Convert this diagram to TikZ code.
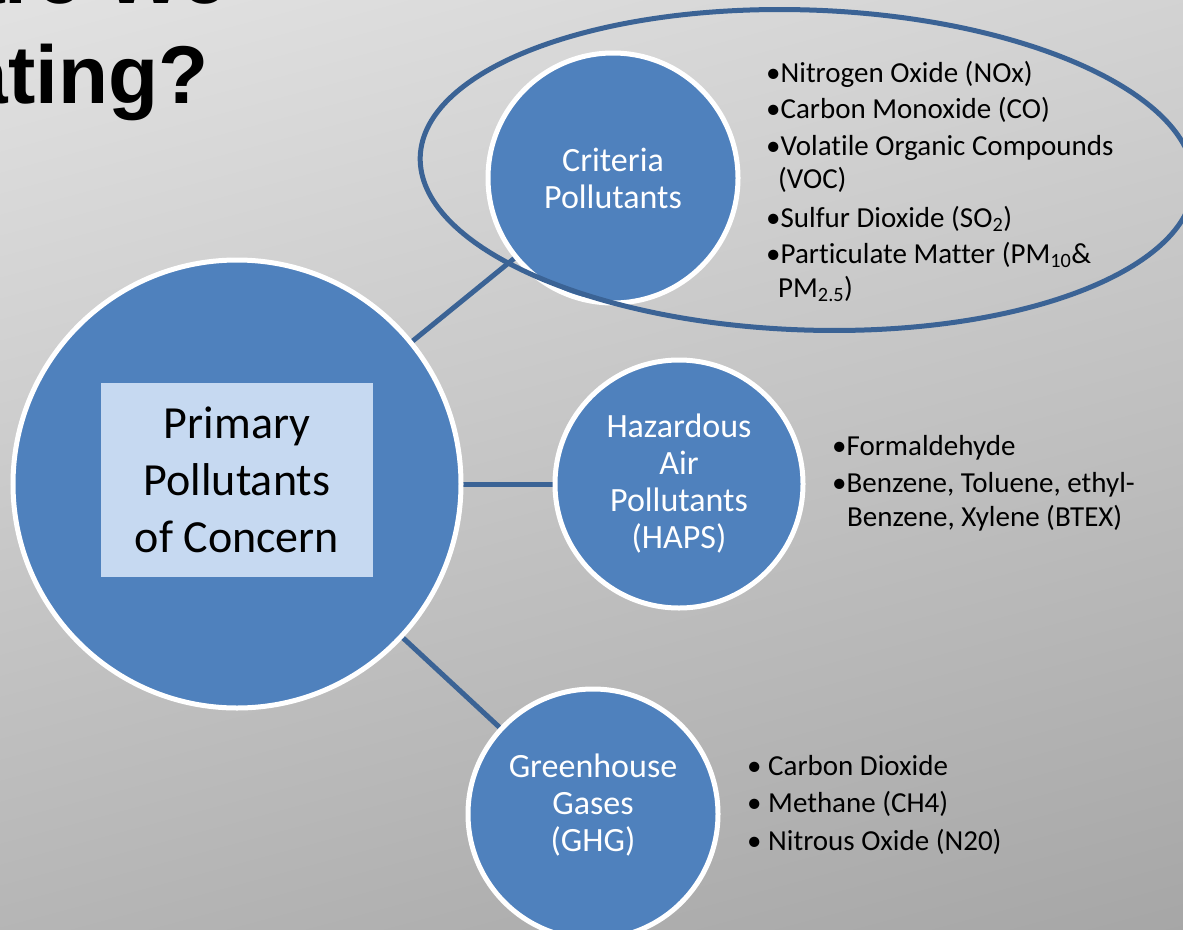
\documentclass[tikz,border=0pt]{standalone}
\usepackage{fontspec}
\setmainfont{Carlito}[Ligatures=NoCommon]
\newfontfamily\titlefont{Liberation Sans}
\definecolor{bgtop}{HTML}{E6E6E6}
\definecolor{bgbot}{HTML}{A2A2A2}
\definecolor{circfill}{HTML}{4F81BD}
\definecolor{linecol}{HTML}{3B6395}
\definecolor{boxfill}{HTML}{C6D9F1}
\tikzset{
  bubble/.style={circle, fill=circfill, draw=white, line width=5pt, inner sep=0pt,
    text=white, align=center, font=\fontsize{34}{37}\selectfont},
  conn/.style={draw=linecol, line width=5pt},
  ring/.style={draw=linecol, line width=5pt},
  item/.style={anchor=base west, inner sep=0pt, text=black, font=\fontsize{29}{36}\selectfont},
  titletext/.style={anchor=base east, inner sep=0pt, text=black, font=\titlefont\bfseries\fontsize{82}{100}\selectfont}
}
\begin{document}
\begin{tikzpicture}[x=1pt,y=-1pt]
\useasboundingbox (0,0) rectangle (1183,929);
\shade[top color=bgtop, bottom color=bgbot, shading angle=15] (-200,-200) rectangle (1383,1129);

% title fragments
\node[titletext] (t1) at (227,3) {are We};
\node[titletext] (t2) at (209,103) {ating?};

% nodes
\coordinate (bigc) at (237,484);
\coordinate (critc) at (613,178);
\coordinate (hapsc) at (679,484);
\coordinate (ghgc) at (593,814);

\draw[conn] (bigc) -- (critc);
\draw[conn] (bigc) -- (hapsc);
\draw[conn] (bigc) -- (ghgc);

\node[bubble, minimum size=448pt] (big) at (bigc) {};
\node[fill=boxfill, minimum width=272pt, minimum height=194pt, inner sep=0pt,
      align=center, font=\fontsize{46}{57}\selectfont] (box) at (237,480)
      {Primary\\Pollutants\\of Concern};
\node[bubble, minimum size=250pt] (crit) at (critc) {Criteria\\Pollutants};
\node[bubble, minimum size=248pt] (haps) at (hapsc) {Hazardous\\Air\\Pollutants\\(HAPS)};
\node[bubble, minimum size=250pt] (ghg) at (ghgc) {};
\node[text=white, align=center, font=\fontsize{34}{37}\selectfont, inner sep=0pt] (ghgt) at (593,805) {Greenhouse\\Gases\\(GHG)};

\draw[ring, rotate around={-2:(807,170)}] (807,170) ellipse [x radius=387, y radius=160];

% criteria list
\node[item] (c1) at (766,82) {•Nitrogen Oxide (NOx)};
\node[item] (c2) at (766,118) {•Carbon Monoxide (CO)};
\node[item] (c3) at (766,155) {•Volatile Organic Compounds};
\node[item] (c4) at (778,188) {(VOC)};
\node[item] (c5) at (766,227) {•Sulfur Dioxide (SO\textsubscript{2})};
\node[item] (c6) at (766,263) {•Particulate Matter (PM\textsubscript{10}\&};
\node[item] (c7) at (778,297) {PM\textsubscript{2.5})};

% haps list
\node[item] (h1) at (832,455) {•Formaldehyde};
\node[item] (h2) at (832,492) {•Benzene, Toluene, ethyl-};
\node[item] (h3) at (847,526) {Benzene, Xylene (BTEX)};

% ghg list
\node[item] (g1) at (747,775) {• Carbon Dioxide};
\node[item] (g2) at (747,812) {• Methane (CH4)};
\node[item] (g3) at (747,850) {• Nitrous Oxide (N20)};
\end{tikzpicture}
\end{document}
